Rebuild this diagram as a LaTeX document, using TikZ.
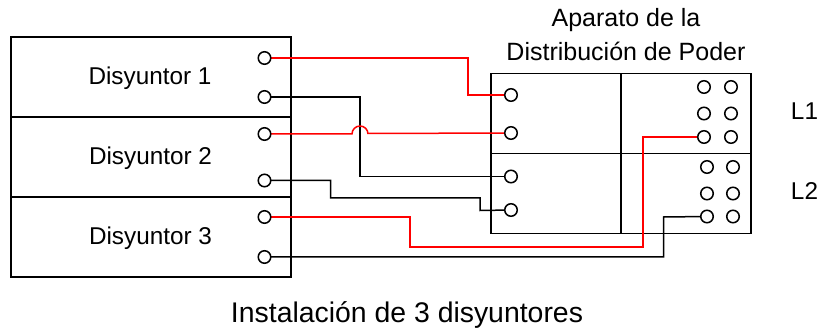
\documentclass[tikz,border=0pt]{standalone}
\usepackage{fontspec}
\setmainfont{Liberation Sans}
\begin{document}
\begin{tikzpicture}[x=1pt,y=-1pt,
  box/.style={draw=black,line width=1.5pt,fill=none},
  term/.style={circle,draw=black,line width=1.5pt,fill=white,minimum size=12.5pt,inner sep=0pt},
  redw/.style={draw=red,line width=1.5pt},
  blkw/.style={draw=black,line width=1.5pt},
  lab/.style={font=\fontsize{24.3}{28}\selectfont,inner sep=0pt,anchor=center}]
\useasboundingbox (0,0) rectangle (819,328);
% breakers
\node[box,minimum width=280pt,minimum height=80pt,inner sep=0pt] (b1) at (151,77) {};
\node[box,minimum width=280pt,minimum height=80pt,inner sep=0pt] (b2) at (151,157) {};
\node[box,minimum width=280pt,minimum height=80pt,inner sep=0pt] (b3) at (151,237) {};
\node[lab] (t1) at (150,78.5) {Disyuntor 1};
\node[lab] (t2) at (150.5,158.5) {Disyuntor 2};
\node[lab] (t3) at (150.5,238.5) {Disyuntor 3};
% panel
\node[box,minimum width=130pt,minimum height=80pt,inner sep=0pt] (p1) at (556,113.5) {};
\node[box,minimum width=130pt,minimum height=80pt,inner sep=0pt] (p2) at (686,113.5) {};
\node[box,minimum width=130pt,minimum height=80pt,inner sep=0pt] (p3) at (556,193.3) {};
\node[box,minimum width=130pt,minimum height=80pt,inner sep=0pt] (p4) at (686,193.3) {};
% wires
\coordinate (a1) at (264.5,58);
\coordinate (a2) at (264.5,97);
\coordinate (a3) at (264.5,134);
\coordinate (a4) at (264.5,180.5);
\coordinate (a5) at (264.5,217);
\coordinate (a6) at (264.5,257);
\coordinate (c1) at (511,95);
\coordinate (c2) at (511,133);
\coordinate (c3) at (511,176.5);
\coordinate (c4) at (511,210);
\coordinate (g1) at (704,137);
\coordinate (g2) at (707,216.5);
\draw[redw] (a1) -- (468,58) -- (468,95) -- (c1);
\draw[blkw] (a2) -- (360,97) -- (360,176.5) -- (c3);
\draw[redw] (a3) -- (352,134) arc[start angle=180,end angle=360,radius=8] -- (368,133.5) -- (c2);
\draw[blkw] (a4) -- (330.5,180.5) -- (330.5,198) -- (480,198) -- (480,210.5) -- (c4);
\draw[redw] (a5) -- (410,217) -- (410,247) -- (643,247) -- (643,137) -- (g1);
\draw[blkw] (a6) -- (663.5,257) -- (663.5,217) -- (g2);
% terminals
\foreach \n/\x/\y in {n1/264.5/58,n2/264.5/97,n3/264.5/134,n4/264.5/180.5,n5/264.5/217,n6/264.5/257,
  m1/511/95,m2/511/133,m3/511/176.5,m4/511/210,
  u1/704/87,u2/731/87,u3/704/113.5,u4/731/113.5,u5/704/137,u6/731/137,
  v1/707/167,v2/733/167,v3/707/193.5,v4/733/193.5,v5/707/216.5,v6/733/216.5}
  \node[term] (\n) at (\x,\y) {};
% labels
\node[lab,font=\fontsize{25}{29}\selectfont] (h1) at (626,20.5) {Aparato de la};
\node[lab,font=\fontsize{25}{29}\selectfont] (h2) at (626,51) {Distribución de Poder};
\node[lab] (l1) at (804.5,111) {L1};
\node[lab] (l2) at (804.5,191) {L2};
\node[lab,font=\fontsize{28.4}{32}\selectfont] (f) at (407,315) {Instalación de 3 disyuntores};
\end{tikzpicture}
\end{document}
